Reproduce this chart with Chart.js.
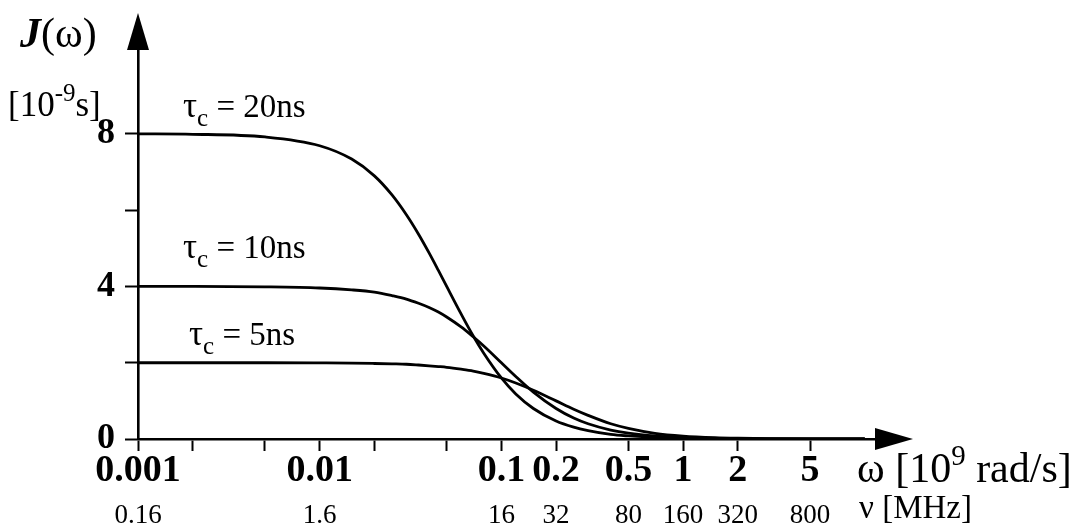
<!DOCTYPE html>
<html>
<head>
<meta charset="utf-8">
<script src="https://cdn.jsdelivr.net/npm/chart.js@4.4.1/dist/chart.umd.min.js"></script>
<style>
  html, body { margin: 0; padding: 0; background: #fff; }
  #wrap { width: 1080px; height: 530px; }
</style>
</head>
<body>
<div id="wrap"><canvas id="specChart" width="1080" height="530"></canvas></div>
<script>
/* ── Data ── */
const omega = [0.001, 0.002, 0.005, 0.01, 0.015, 0.02, 0.025, 0.03, 0.035, 0.04, 0.045, 0.05,
  0.06, 0.07, 0.08, 0.1, 0.12, 0.15, 0.2, 0.25, 0.3, 0.4, 0.5, 0.7, 1, 1.5, 2, 3, 5, 7, 10];
const j20ns = [8.00, 7.99, 7.92, 7.69, 7.34, 6.90, 6.40, 5.88, 5.37, 4.88, 4.42, 4.00,
  3.28, 2.70, 2.25, 1.60, 1.18, 0.80, 0.47, 0.31, 0.22, 0.12, 0.08, 0.04, 0.02, 0.009, 0.005, 0.002, 0.001, 0.0004, 0.0002];
const j10ns = [4.00, 4.00, 3.99, 3.96, 3.91, 3.85, 3.76, 3.67, 3.56, 3.45, 3.33, 3.20,
  2.94, 2.68, 2.44, 2.00, 1.64, 1.23, 0.80, 0.55, 0.40, 0.235, 0.154, 0.08, 0.04, 0.018, 0.01, 0.0044, 0.0016, 0.0008, 0.0004];
const j5ns = [2.00, 2.00, 2.00, 1.995, 1.99, 1.98, 1.97, 1.96, 1.94, 1.92, 1.90, 1.88,
  1.83, 1.78, 1.72, 1.60, 1.47, 1.28, 1.00, 0.78, 0.62, 0.40, 0.28, 0.15, 0.077, 0.035, 0.02, 0.0088, 0.0032, 0.0016, 0.0008];

const omegaTicks = [0.001, 0.01, 0.1, 0.2, 0.5, 1, 2, 5];
const omegaTickLabels = ['0.001', '0.01', '0.1', '0.2', '0.5', '1', '2', '5'];
const nuTickLabels = ['0.16', '1.6', '16', '32', '80', '160', '320', '800'];
const minorTicks = [0.002, 0.005, 0.02, 0.05];
const jTicks = [0, 2, 4, 6, 8];
const jTickLabels = ['0', '', '4', '', '8'];

const SERIF = '"Liberation Serif", "Times New Roman", serif';

function pts(ys) {
  return omega.map((w, i) => ({ x: w, y: ys[i] }));
}

function curve(ys) {
  return {
    data: pts(ys),
    borderColor: '#000',
    borderWidth: 2.8,
    pointRadius: 0,
    cubicInterpolationMode: 'monotone',
    fill: false
  };
}

/* ── text with sub/superscripts: parts = [text, size, style, dy] ── */
function richText(ctx, x, y, parts) {
  parts.forEach(p => {
    ctx.font = (p[2] || '') + ' ' + p[1] + 'px ' + SERIF;
    ctx.fillText(p[0], x, y + (p[3] || 0));
    x += ctx.measureText(p[0]).width;
  });
}

/* ── arrows + axis titles + curve labels ── */
const decorPlugin = {
  id: 'decor',
  afterDraw(chart) {
    const ctx = chart.ctx;
    const a = chart.chartArea;
    ctx.save();
    ctx.fillStyle = '#000';

    // arrow heads
    ctx.beginPath();
    ctx.moveTo(a.left, a.top - 37);
    ctx.lineTo(a.left - 11, a.top);
    ctx.lineTo(a.left + 11, a.top);
    ctx.closePath();
    ctx.fill();

    ctx.beginPath();
    ctx.moveTo(a.right + 33, a.bottom);
    ctx.lineTo(a.right - 5, a.bottom - 11);
    ctx.lineTo(a.right - 5, a.bottom + 11);
    ctx.closePath();
    ctx.fill();

    ctx.textBaseline = 'alphabetic';
    ctx.textAlign = 'left';

    // y axis title
    richText(ctx, 20, 47, [['J', 42, 'italic bold'], ['(ω)', 42, '']]);
    richText(ctx, 8, 116, [['[10', 35, ''], ['-9', 25, '', -15], ['s]', 35, '']]);

    // x axis titles
    richText(ctx, 857, 482, [['ω [10', 42, ''], ['9', 29, '', -17], [' rad/s]', 42, '']]);
    richText(ctx, 859, 518, [['ν [MHz]', 33, '']]);

    // curve labels
    const lab = (x, y, txt) => richText(ctx, x, y, [['τ', 35, ''], ['c', 25, '', 9], [' = ' + txt, 33, '']]);
    lab(183, 117, '20ns');
    lab(183, 258, '10ns');
    lab(189, 345, '5ns');

    ctx.restore();
  }
};

/* ── chart ── */
const allOmegaTicks = omegaTicks.concat(minorTicks).sort((p, q) => p - q);

new Chart(document.getElementById('specChart').getContext('2d'), {
  type: 'line',
  data: {
    datasets: [curve(j20ns), curve(j10ns), curve(j5ns)]
  },
  options: {
    responsive: false,
    animation: false,
    layout: { padding: { top: 50, right: 200, bottom: 0, left: 0 } },
    plugins: {
      legend: { display: false },
      tooltip: { enabled: false }
    },
    scales: {
      x: {
        type: 'logarithmic',
        position: 'bottom',
        weight: 0,
        min: 0.001,
        max: 12.13,
        afterBuildTicks: s => { s.ticks = allOmegaTicks.map(v => ({ value: v })); },
        afterFit: s => { s.height = 50; },
        border: { display: true, color: '#000', width: 2.6 },
        grid: { drawOnChartArea: false, drawTicks: true, tickLength: 12, tickColor: '#000', tickWidth: 2 },
        ticks: {
          autoSkip: false,
          maxRotation: 0,
          padding: 1,
          color: '#000',
          font: { family: SERIF, size: 38, weight: 'bold', lineHeight: 1 },
          callback: v => {
            const i = omegaTicks.indexOf(v);
            return i < 0 ? '' : omegaTickLabels[i];
          }
        }
      },
      x2: {
        type: 'logarithmic',
        position: 'bottom',
        weight: 1,
        min: 0.001,
        max: 12.13,
        afterBuildTicks: s => { s.ticks = omegaTicks.map(v => ({ value: v })); },
        afterFit: s => { s.height = 41; },
        border: { display: false },
        grid: { display: false, drawTicks: false },
        ticks: {
          autoSkip: false,
          maxRotation: 0,
          padding: 13,
          color: '#000',
          font: { family: SERIF, size: 27, lineHeight: 1 },
          callback: v => {
            const i = omegaTicks.indexOf(v);
            return i < 0 ? '' : nuTickLabels[i];
          }
        }
      },
      y: {
        min: 0,
        max: 10.2,
        afterBuildTicks: s => { s.ticks = jTicks.map(v => ({ value: v })); },
        afterFit: s => { s.width = 138; },
        border: { display: true, color: '#000', width: 2.6 },
        grid: { drawOnChartArea: false, drawTicks: true, tickLength: 13, tickColor: '#000', tickWidth: 2 },
        ticks: {
          padding: 10,
          color: '#000',
          font: { family: SERIF, size: 36, weight: 'bold', lineHeight: 1 },
          callback: v => jTickLabels[jTicks.indexOf(v)]
        }
      }
    }
  },
  plugins: [decorPlugin]
});
</script>
</body>
</html>
